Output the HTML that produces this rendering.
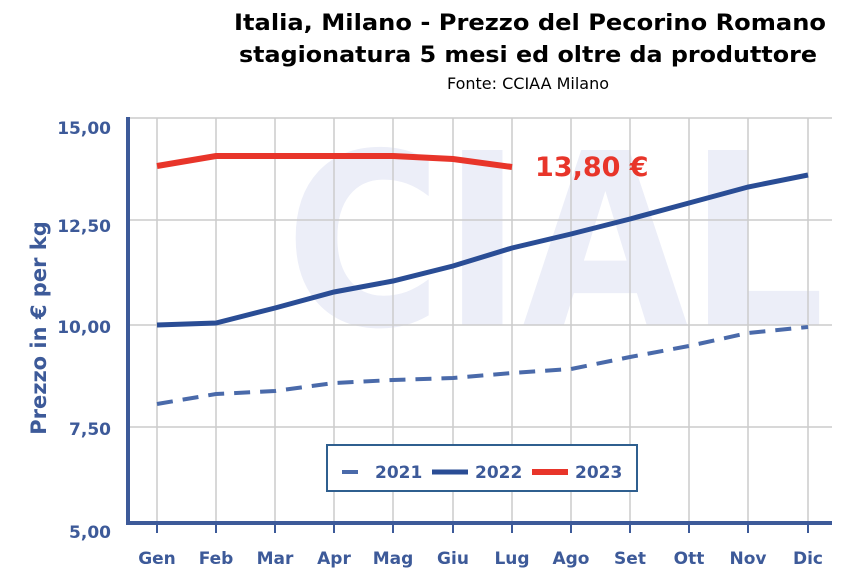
<!DOCTYPE html>
<html><head><meta charset="utf-8"><style>
body{margin:0;background:#fff}
svg{display:block}
text{font-family:"DejaVu Sans",Verdana,sans-serif}
</style></head><body>
<svg width="860" height="588" viewBox="0 0 860 588" xmlns="http://www.w3.org/2000/svg">
<text x="530" y="30" text-anchor="middle" font-size="22" font-weight="bold" fill="#000" textLength="592" lengthAdjust="spacingAndGlyphs">Italia, Milano - Prezzo del Pecorino Romano</text>
<text x="528" y="62" text-anchor="middle" font-size="22" font-weight="bold" fill="#000" textLength="578" lengthAdjust="spacingAndGlyphs">stagionatura 5 mesi ed oltre da produttore</text>
<text x="528" y="89" text-anchor="middle" font-size="16" fill="#000">Fonte: CCIAA Milano</text>
<!-- watermark -->
<text x="285" y="325" font-size="240" font-weight="bold" fill="#eceef8" textLength="540" lengthAdjust="spacingAndGlyphs">CIAL</text>
<!-- grid -->
<g stroke="#cccccc" stroke-width="1.5">
<line x1="128" y1="118" x2="832" y2="118"/>
<line x1="128" y1="220" x2="832" y2="220"/>
<line x1="128" y1="325" x2="832" y2="325"/>
<line x1="128" y1="427" x2="832" y2="427"/>
<line x1="157" y1="118" x2="157" y2="523"/><line x1="216" y1="118" x2="216" y2="523"/>
<line x1="275" y1="118" x2="275" y2="523"/><line x1="334" y1="118" x2="334" y2="523"/>
<line x1="393" y1="118" x2="393" y2="523"/><line x1="453" y1="118" x2="453" y2="523"/>
<line x1="512" y1="118" x2="512" y2="523"/><line x1="571" y1="118" x2="571" y2="523"/>
<line x1="630" y1="118" x2="630" y2="523"/><line x1="689" y1="118" x2="689" y2="523"/>
<line x1="748" y1="118" x2="748" y2="523"/><line x1="808" y1="118" x2="808" y2="523"/>
</g>
<g stroke="#3d5a99" stroke-width="4"><line x1="128" y1="117" x2="128" y2="525"/><line x1="126" y1="523" x2="832" y2="523"/></g>
<g stroke="#3d5a99" stroke-width="2">
<line x1="157" y1="523" x2="157" y2="533"/><line x1="216" y1="523" x2="216" y2="533"/><line x1="275" y1="523" x2="275" y2="533"/><line x1="334" y1="523" x2="334" y2="533"/><line x1="393" y1="523" x2="393" y2="533"/><line x1="453" y1="523" x2="453" y2="533"/><line x1="512" y1="523" x2="512" y2="533"/><line x1="571" y1="523" x2="571" y2="533"/><line x1="630" y1="523" x2="630" y2="533"/><line x1="689" y1="523" x2="689" y2="533"/><line x1="748" y1="523" x2="748" y2="533"/><line x1="808" y1="523" x2="808" y2="533"/>
</g>
<g font-size="17" font-weight="bold" fill="#3d5a99" text-anchor="end">
<text x="111" y="134">15,00</text><text x="111" y="232">12,50</text><text x="111" y="333">10,00</text><text x="111" y="435">7,50</text><text x="111" y="538">5,00</text>
</g>
<g font-size="17" font-weight="bold" fill="#3d5a99" text-anchor="middle">
<text x="157" y="564">Gen</text><text x="216" y="564">Feb</text><text x="275" y="564">Mar</text><text x="334" y="564">Apr</text><text x="393" y="564">Mag</text><text x="453" y="564">Giu</text><text x="512" y="564">Lug</text><text x="571" y="564">Ago</text><text x="630" y="564">Set</text><text x="689" y="564">Ott</text><text x="748" y="564">Nov</text><text x="808" y="564">Dic</text>
</g>
<text transform="translate(46,328) rotate(-90)" text-anchor="middle" font-size="21" font-weight="bold" fill="#3d5a99">Prezzo in € per kg</text>
<!-- series -->
<polyline fill="none" stroke="#4a6aaa" stroke-width="4" stroke-dasharray="16,10" points="157,404 216,394 275,391 334,383 393,380 453,378 512,373 571,369 630,357 689,346 748,333 808,327"/>
<polyline fill="none" stroke="#2a4d95" stroke-width="5" points="157,325 216,323 275,308 334,292 393,281 453,266 512,248 571,234 630,219 689,203 748,187 808,175"/>
<polyline fill="none" stroke="#e8352a" stroke-width="6" points="157,166 216,156 275,156 334,156 393,156 453,159 512,167"/>
<text x="535" y="176" font-size="27" font-weight="bold" fill="#e8352a">13,80 €</text>
<!-- legend -->
<rect x="327" y="445" width="310" height="46" fill="#fff" stroke="#2f5f8f" stroke-width="2"/>
<line x1="342" y1="472" x2="358" y2="472" stroke="#4a6aaa" stroke-width="4"/>
<text x="375" y="478" font-size="17" font-weight="bold" fill="#3d5a99">2021</text>
<line x1="432" y1="472" x2="468" y2="472" stroke="#2a4d95" stroke-width="5"/>
<text x="475" y="478" font-size="17" font-weight="bold" fill="#3d5a99">2022</text>
<line x1="532" y1="472" x2="568" y2="472" stroke="#e8352a" stroke-width="6"/>
<text x="575" y="478" font-size="17" font-weight="bold" fill="#3d5a99">2023</text>
</svg>
</body></html>
